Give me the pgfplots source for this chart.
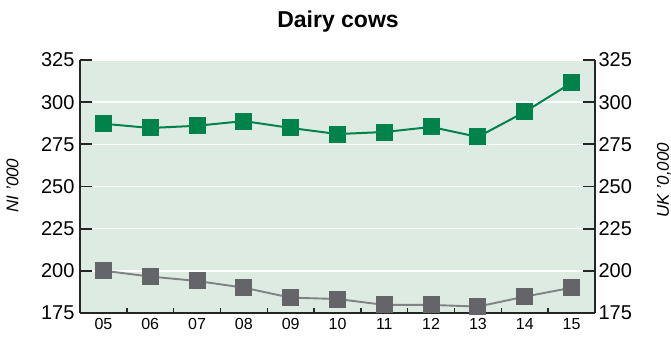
\documentclass[border=0pt]{standalone}
\usepackage{fontspec}
\setmainfont{Liberation Sans}
\usepackage{pgfplots}
\pgfplotsset{compat=1.18}
\definecolor{bg}{HTML}{DDEBE3}
\definecolor{dgreen}{HTML}{00834A}
\definecolor{mgray}{HTML}{646569}
\definecolor{lgray}{HTML}{808285}
\begin{document}
\begin{tikzpicture}
\pgfplotsset{
  common/.style={
    scale only axis, width=515pt, height=253pt,
    xmin=-0.5, xmax=10.5, ymin=175, ymax=325,
    ytick={175,200,...,325},
    tick align=inside,
    major tick length=12pt, minor tick length=5pt,
    axis line style={line width=1.7pt, black!85},
    every tick/.style={line width=1.7pt, black!85},
    /pgf/number format/assume math mode=true,
    yticklabel style={font=\fontsize{20}{20}\selectfont},
    clip=false,
  }
}
\begin{axis}[common,
  at={(0,0)}, anchor=south west,
  axis x line*=bottom, axis y line*=left,
  axis background/.style={fill=bg},
  xtick={0,...,10},
  xticklabels={05,06,07,08,09,10,11,12,13,14,15},
  xticklabel style={font=\fontsize{16}{16}\selectfont, yshift=-2pt},
  minor xtick={0.5,1.5,...,9.5},
  major x tick style={draw=none},
  minor x tick style={line width=1.4pt, black!85},
  yticklabel style={xshift=-2pt},
  ymajorgrids, grid style={white, line width=1.6pt},
]
\addplot[dgreen, line width=2pt, mark=square*, mark size=8pt, mark options={solid, fill=dgreen, draw=dgreen, line width=0pt}]
 coordinates {(0,287.2) (1,284.7) (2,286.0) (3,288.8) (4,284.7) (5,281.1) (6,282.3) (7,285.3) (8,279.4) (9,294.2) (10,311.5)};
\addplot[lgray, line width=1.9pt, mark=square*, mark size=8pt, mark options={solid, fill=mgray, draw=mgray, line width=0pt}]
 coordinates {(0,200.1) (1,196.6) (2,194.0) (3,190.0) (4,184.1) (5,183.3) (6,179.8) (7,179.8) (8,178.8) (9,184.7) (10,190.0)};
\end{axis}
\begin{axis}[common,
  at={(0,0)}, anchor=south west,
  axis x line=none, axis y line*=right,
  yticklabel style={xshift=0pt},
]
\addplot[draw=none] coordinates {(0,200)};
\end{axis}
\node[font=\bfseries\fontsize{23}{23}\selectfont] at (258pt,291pt) {Dairy cows};
\node[rotate=90, font=\itshape\fontsize{17}{17}\selectfont] at (-67.5pt,127.5pt) {NI '000};
\node[rotate=90, font=\itshape\fontsize{17}{17}\selectfont] at (584pt,133pt) {UK '0,000};
\pgfresetboundingbox
\path (-80pt,-29pt) rectangle ++(671pt,342pt);
\end{tikzpicture}
\end{document}
